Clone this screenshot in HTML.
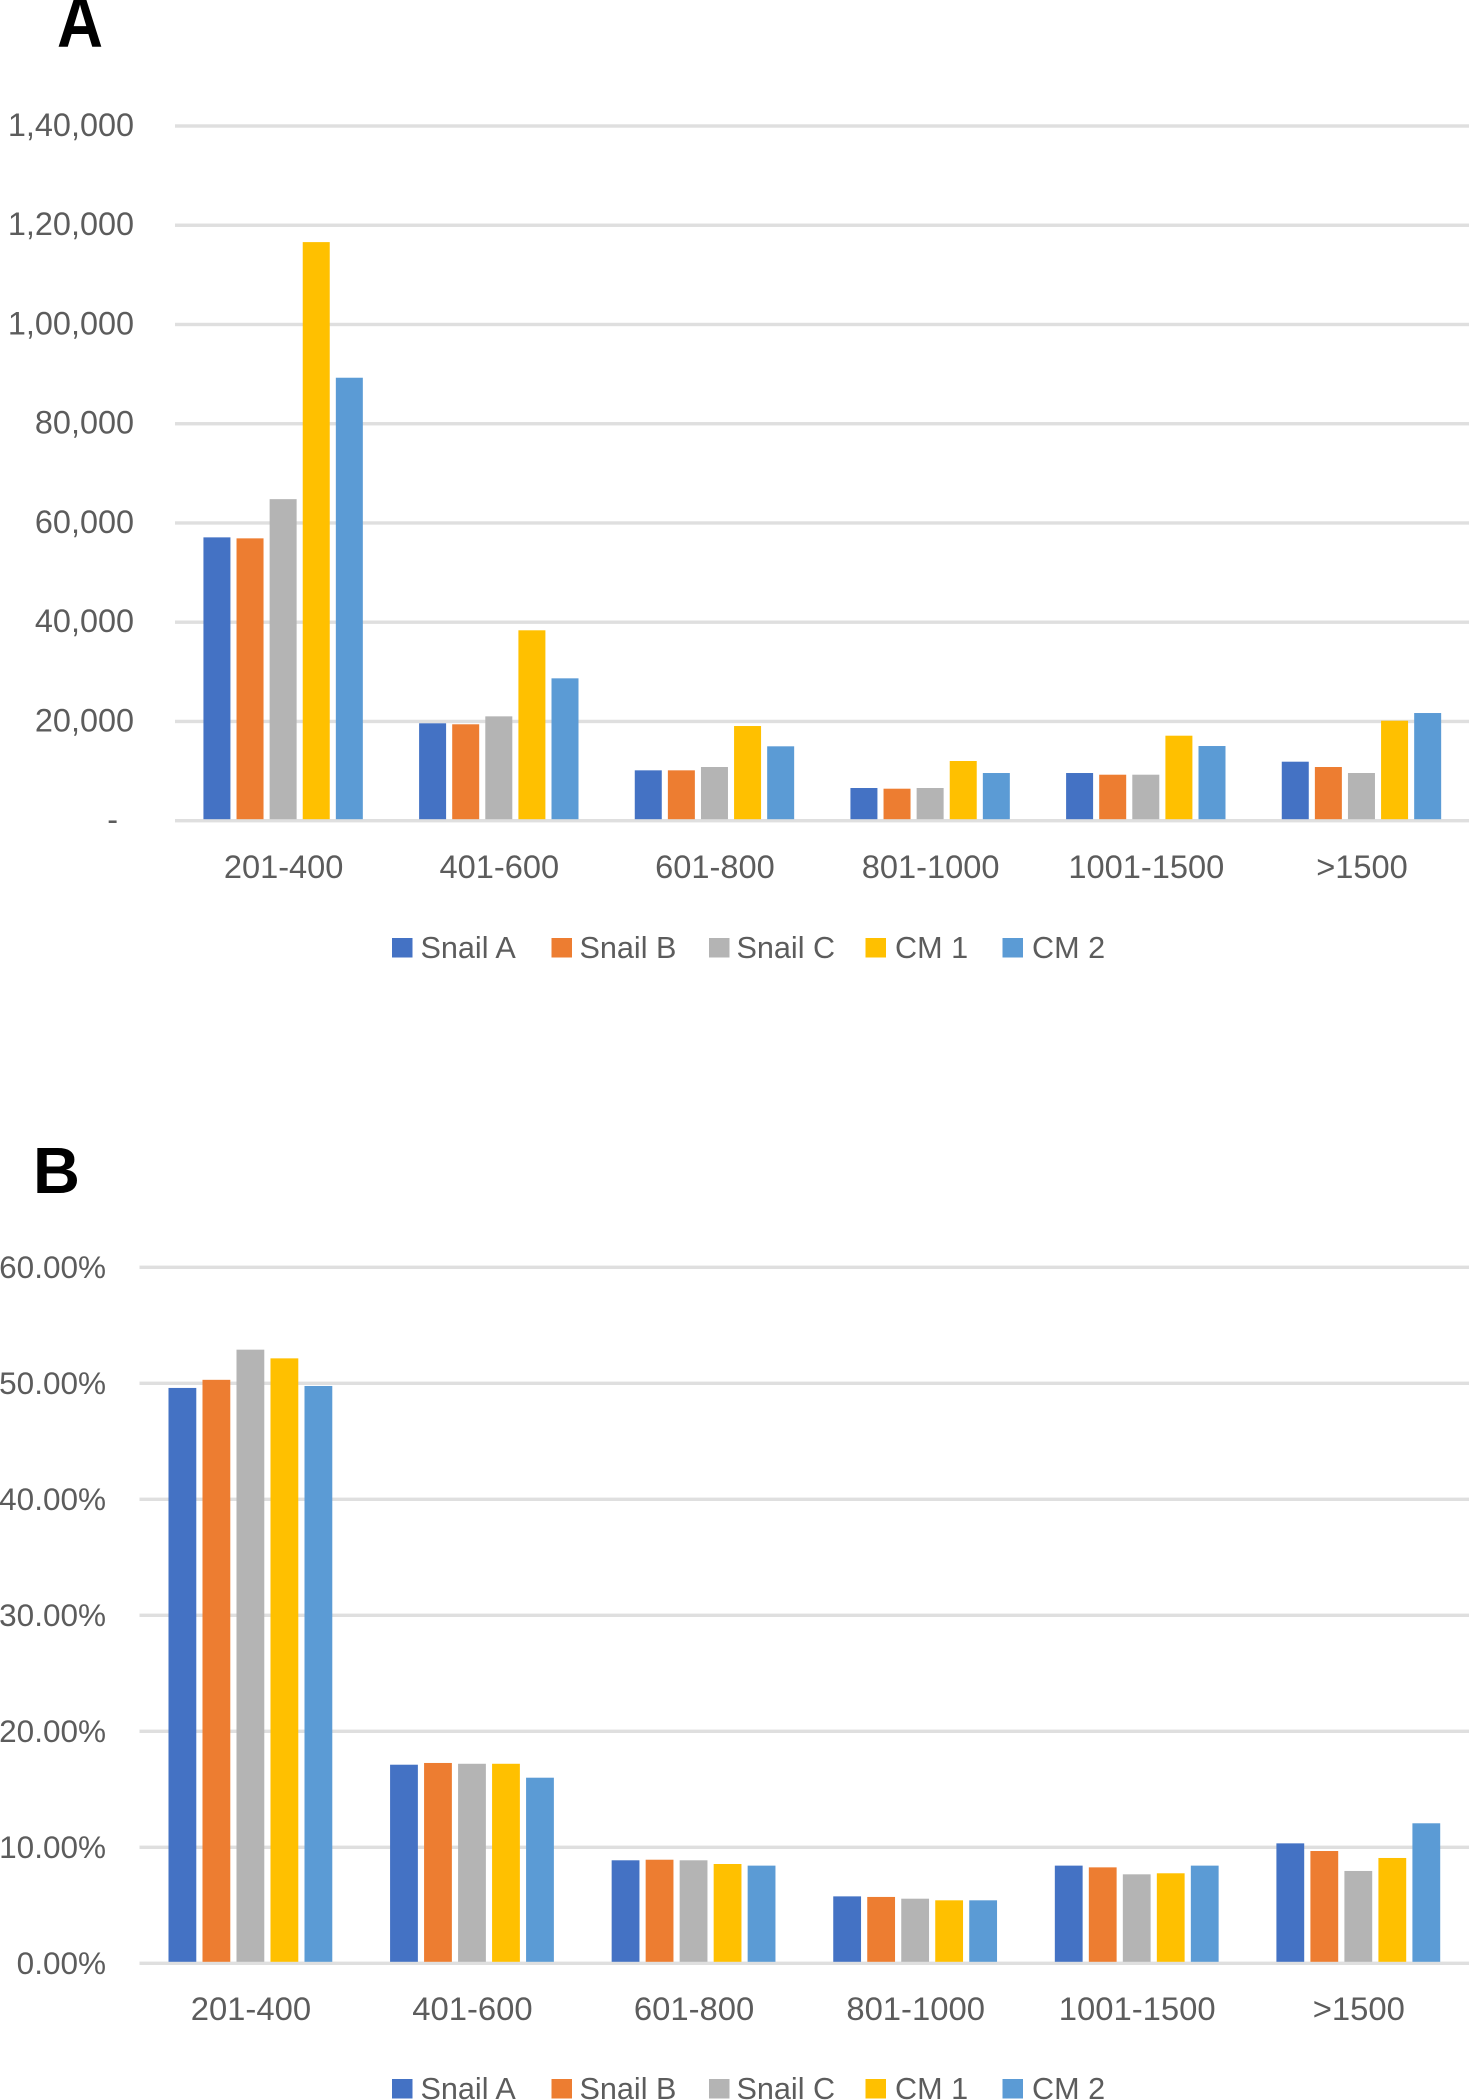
<!DOCTYPE html>
<html lang="en">
<head>
<meta charset="utf-8">
<title>Transcript length distribution charts</title>
<style>
  html, body { margin: 0; padding: 0; background: #ffffff; }
  body { width: 1469px; height: 2100px; overflow: hidden; }
  svg { display: block; }
  text { font-family: "Liberation Sans", sans-serif; fill: #5c5c5c; font-size: 31px; }
  .panel { font-weight: 700; fill: #000000; font-size: 65px; }
  .panel-a { font-size: 72px; }
</style>
</head>
<body>
<svg id="figure" width="1469" height="2100" viewBox="0 0 1469 2100" xmlns="http://www.w3.org/2000/svg">
  <text class="panel panel-a" x="57" y="46.7" textLength="46" lengthAdjust="spacingAndGlyphs">A</text>
  <text class="panel" x="33" y="1193">B</text>
</svg>
<script>
const categories = ["201-400", "401-600", "601-800", "801-1000", "1001-1500", ">1500"];
const seriesNames = ["Snail A", "Snail B", "Snail C", "CM 1", "CM 2"];
const seriesColors = ["#4472C4", "#ED7D31", "#B4B4B4", "#FFC000", "#5B9BD5"];

const countTicks = [0, 20000, 40000, 60000, 80000, 100000, 120000, 140000];
const countTickLabels = ["-", "20,000", "40,000", "60,000", "80,000", "1,00,000", "1,20,000", "1,40,000"];
const countSnailA = [57100, 19630, 10150, 6590, 9610, 11890];
const countSnailB = [56900, 19430, 10150, 6450, 9270, 10820];
const countSnailC = [64800, 21030, 10820, 6590, 9270, 9610];
const countCM1 = [116600, 38370, 19080, 12030, 17130, 20150];
const countCM2 = [89270, 28690, 14990, 9610, 15050, 21700];

const percentTicks = [0, 10, 20, 30, 40, 50, 60];
const percentTickLabels = ["0.00%", "10.00%", "20.00%", "30.00%", "40.00%", "50.00%", "60.00%"];
const percentSnailA = [49.6, 17.12, 8.88, 5.77, 8.42, 10.34];
const percentSnailB = [50.3, 17.27, 8.93, 5.72, 8.27, 9.68];
const percentSnailC = [52.9, 17.2, 8.88, 5.57, 7.67, 7.96];
const percentCM1 = [52.15, 17.2, 8.56, 5.43, 7.76, 9.08];
const percentCM2 = [49.77, 16.0, 8.42, 5.43, 8.42, 12.07];

const NS = "http://www.w3.org/2000/svg";
const figure = document.getElementById("figure");

function make(tag, attrs, text) {
  const el = document.createElementNS(NS, tag);
  for (const key in attrs) el.setAttribute(key, attrs[key]);
  if (text !== undefined) el.textContent = text;
  return el;
}

function drawChart(opt) {
  const group = make("g", {});
  
  
  figure.appendChild(group);

  const maxTick = opt.ticks[opt.ticks.length - 1];
  const yScale = v => opt.y0 - (v / maxTick) * (opt.y0 - opt.yTop);
  const band = (opt.right - opt.left) / categories.length;
  const xCenter = i => opt.left + band * (i + 0.5);

  opt.ticks.forEach((tick, i) => {
    const line = make("rect", { x: opt.left, y: yScale(tick) - 1.7, width: opt.right - opt.left, height: 3.4, fill: "#DFDFDF" });
    
    
    group.appendChild(line);

    const isDash = opt.tickLabels[i] === "-";
    const label = make("text", { x: isDash ? opt.dashRight : opt.labelRight, y: yScale(tick) + opt.tickOffset, "text-anchor": "end", style: "font-size:" + opt.tickFont + "px" }, opt.tickLabels[i]);
    
    
    group.appendChild(label);
  });

  opt.series.forEach((values, s) => {
    values.forEach((value, c) => {
      const x = xCenter(c) + opt.shift + (s - 2) * opt.pitch - opt.barWidth / 2;
      const top = yScale(value);
      const bar = make("rect", { x: x, y: top, width: opt.barWidth, height: yScale(0) - 1.5 - top, fill: seriesColors[s] });
      
      
      group.appendChild(bar);
    });
  });

  categories.forEach((cat, c) => {
    const label = make("text", { x: xCenter(c) + opt.shift + 0.5, y: opt.xLabelY, "text-anchor": "middle", style: "font-size:" + opt.categoryFont + "px" }, cat);
    
    
    group.appendChild(label);
  });

  const swatchLeft = [392, 551.5, 709, 865.5, 1002.5];
  const textLeft = [420.5, 579.5, 736.5, 895, 1032];
  seriesNames.forEach((name, s) => {
    const swatch = make("rect", { x: swatchLeft[s], y: opt.legendY, width: 20.5, height: 19.5, fill: seriesColors[s] });
    
    
    group.appendChild(swatch);

    const label = make("text", { x: textLeft[s], y: opt.legendY + 20, style: "font-size:30.6px" }, name);
    
    
    group.appendChild(label);
  });
}

drawChart({
  name: "count-chart",
  ticks: countTicks,
  tickLabels: countTickLabels,
  series: [countSnailA, countSnailB, countSnailC, countCM1, countCM2],
  left: 175, right: 1469, y0: 820.7, yTop: 126,
  pitch: 33.1, barWidth: 27, shift: 0.3,
  labelRight: 134, dashRight: 118, tickOffset: 10,
  tickFont: 32.4, categoryFont: 32.6,
  xLabelY: 878, legendY: 938
});

drawChart({
  name: "percent-chart",
  ticks: percentTicks,
  tickLabels: percentTickLabels,
  series: [percentSnailA, percentSnailB, percentSnailC, percentCM1, percentCM2],
  left: 139.5, right: 1469, y0: 1963.3, yTop: 1267.3,
  pitch: 34, barWidth: 27.8, shift: 0.1,
  labelRight: 106, dashRight: 106, tickOffset: 10.5,
  tickFont: 31.5, categoryFont: 32.8,
  xLabelY: 2020, legendY: 2079
});
</script>
</body>
</html>
